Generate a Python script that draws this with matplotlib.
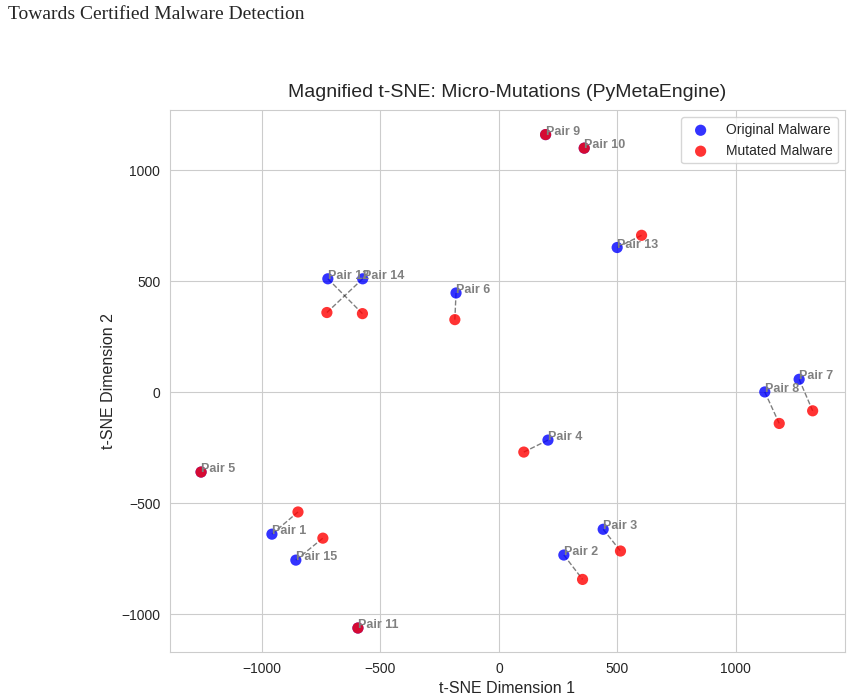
import matplotlib
matplotlib.use("Agg")
import matplotlib.pyplot as plt
import seaborn as sns

sns.set_style("whitegrid")
plt.rcParams['font.family'] = ['Liberation Sans', 'DejaVu Sans']

pairs = [f"Pair {i}" for i in range(1, 16)]
orig_x = [-958, 274, 440, 207, -1257, -181, 1267, 1122, 197, 360, -595, -722, 499, -575, -857]
orig_y = [-640, -734, -618, -216, -360, 447, 58, 1, 1161, 1100, -1063, 511, 652, 511, -757]
mut_x = [-848, 353, 513, 105, -1257, -186, 1324, 1183, 197, 360, -595, -576, 602, -726, -743]
mut_y = [-540, -844, -716, -270, -360, 327, -84, -141, 1161, 1100, -1063, 354, 707, 359, -658]

fig = plt.figure(figsize=(8.51, 6.97), dpi=100)
ax = fig.add_axes([0.1998, 0.0646, 0.793, 0.777])

for i in range(len(pairs)):
    ax.plot([orig_x[i], mut_x[i]], [orig_y[i], mut_y[i]], 'k--', alpha=0.5, linewidth=1)

ax.scatter(orig_x, orig_y, c='blue', s=65, alpha=0.8, label='Original Malware', edgecolors='none', zorder=3)
ax.scatter(mut_x, mut_y, c='red', s=65, alpha=0.8, label='Mutated Malware', edgecolors='none', zorder=3)

for i, p in enumerate(pairs):
    ax.text(orig_x[i], orig_y[i], p, fontsize=9, fontweight='bold', color='gray', zorder=4)

ax.set_xlim(-1388, 1460)
ax.set_ylim(-1171, 1270)
ax.set_title("Magnified t-SNE: Micro-Mutations (PyMetaEngine)", fontsize=14, pad=10)
ax.set_xlabel("t-SNE Dimension 1", fontsize=11.5)
ax.set_ylabel("t-SNE Dimension 2", fontsize=11.5)
ax.tick_params(labelsize=10)
ax.legend(loc='upper right', fontsize=10, frameon=True)

fig.text(0.009, 0.992, "Towards Certified Malware Detection", fontsize=14,
         family=['Liberation Serif', 'DejaVu Serif'], va='top', ha='left')

fig.savefig("out.png", dpi=100)
